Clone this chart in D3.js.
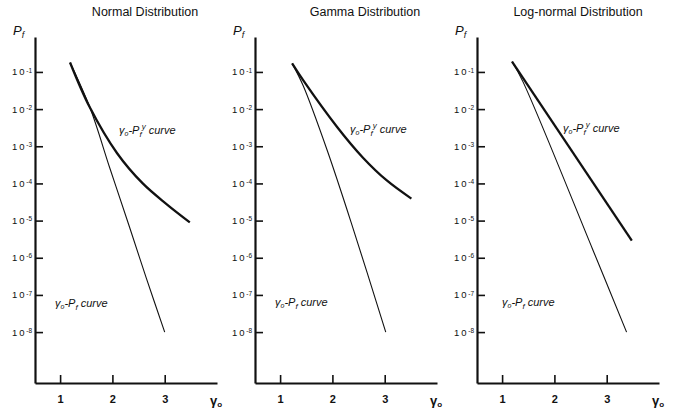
<!DOCTYPE html>
<html>
<head>
<meta charset="utf-8">
<script src="https://cdn.jsdelivr.net/npm/d3@7"></script>
<style>
  body { margin: 0; background: #fff; }
  svg { display: block; font-family: "Liberation Sans", Arial, sans-serif; }
  .axis path, .axis line { stroke: #111; }
  .axis text { fill: #111; }
</style>
</head>
<body>
<svg id="chart" width="674" height="414"></svg>
<script>
// panels
const panelTitles = ["Normal Distribution", "Gamma Distribution", "Log-normal Distribution"];

// axes
const xTicks = [1, 2, 3];
const yTicks = [1e-1, 1e-2, 1e-3, 1e-4, 1e-5, 1e-6, 1e-7, 1e-8];

// [gamma_o, Pf]
const normalPfy = [[1.19, 0.18], [1.57, 1.1e-2], [2.09, 6.5e-4], [2.58, 1.0e-4], [3.04, 2.75e-5], [3.48, 9.0e-6]];
const normalPf = [[1.19, 0.18], [1.57, 1.1e-2], [1.95, 2.6e-4], [2.33, 6.5e-6], [2.65, 2.8e-7], [3.0, 1.0e-8]];

const gammaPfy = [[1.23, 0.17], [1.44, 6.0e-2], [2.09, 3.3e-3], [2.58, 5.0e-4], [3.04, 1.2e-4], [3.51, 3.9e-5]];
const gammaPf = [[1.23, 0.17], [1.44, 4.3e-2], [1.9, 7.8e-4], [2.39, 6.5e-6], [3.02, 1.0e-8]];

const lognormPfy = [[1.19, 0.19], [3.48, 2.9e-6]];
const lognormPf = [[1.19, 0.19], [1.4, 5.4e-2], [2.73, 1.7e-6], [3.38, 1.0e-8]];

const seriesPfy = [normalPfy, gammaPfy, lognormPfy];
const seriesPf = [normalPf, gammaPf, lognormPf];

class Panel {
  constructor(_config, _pfy, _pf) {
    this.config = {
      parentElement: _config.parentElement,
      title: _config.title,
      titleX: _config.titleX,
      left: _config.left,
      upperLabel: _config.upperLabel,
      lowerLabel: _config.lowerLabel,
      width: 182,
      top: 37,
      bottom: 383,
    };
    this.pfy = _pfy;
    this.pf = _pf;
    this.initVis();
  }

  initVis() {
    let vis = this;
    let cfg = vis.config;

    vis.g = d3.select(cfg.parentElement).append("g")
      .attr("transform", `translate(${cfg.left},0)`);

    vis.xScale = d3.scaleLinear().domain([0.52, 4.0]).range([0, cfg.width]);
    vis.yScale = d3.scaleLog()
      .domain([Math.pow(10, -9.37), Math.pow(10, -0.06)])
      .range([cfg.bottom, cfg.top]);

    // title
    vis.g.append("text")
      .attr("x", cfg.titleX)
      .attr("y", 16)
      .attr("text-anchor", "middle")
      .attr("font-size", "12.5px")
      .style("fill", "#111")
      .text(cfg.title);

    // Pf label
    let pl = vis.g.append("text")
      .attr("x", -22)
      .attr("y", 35)
      .attr("font-size", "13px")
      .attr("font-style", "italic")
      .style("fill", "#111");
    pl.append("tspan").text("P");
    pl.append("tspan").attr("dy", 3).attr("font-size", "9px").text("f");

    vis.xAxis = d3.axisBottom(vis.xScale)
      .tickValues(xTicks)
      .tickSizeInner(-8)
      .tickSizeOuter(0)
      .tickPadding(12)
      .tickFormat(d3.format("d"));
    vis.yAxis = d3.axisLeft(vis.yScale)
      .tickValues(yTicks)
      .tickSizeInner(-8)
      .tickSizeOuter(0)
      .tickPadding(3)
      .tickFormat(() => "10");

    vis.xAxisGroup = vis.g.append("g")
      .attr("class", "axis x-axis")
      .attr("transform", `translate(0,${cfg.bottom})`);
    vis.yAxisGroup = vis.g.append("g").attr("class", "axis y-axis");

    // gamma_o label
    let xl = vis.g.append("text")
      .attr("x", cfg.width - 7)
      .attr("y", 405)
      .attr("font-size", "13px")
      .attr("font-weight", "bold")
      .style("fill", "#111");
    xl.append("tspan").text("γ");
    xl.append("tspan").attr("dy", 2).attr("font-size", "8px").text("o");

    vis.renderVis();
  }

  curveLabel(x, y, sup) {
    let vis = this;
    let t = vis.g.append("text")
      .attr("x", x)
      .attr("y", y)
      .attr("font-size", "11px")
      .attr("font-style", "italic")
      .style("fill", "#111");
    t.append("tspan").text("γ");
    t.append("tspan").attr("dy", 2).attr("font-size", "7px").text("o");
    t.append("tspan").attr("dy", -2).text("-P");
    t.append("tspan").attr("dy", 3).attr("font-size", "8px").text("f");
    if (sup) {
      t.append("tspan").attr("dy", -8).attr("font-size", "8px").text("y");
      t.append("tspan").attr("dy", 5).text("  curve");
    } else {
      t.append("tspan").attr("dy", -3).text("  curve");
    }
  }

  renderVis() {
    let vis = this;
    let cfg = vis.config;

    vis.xAxisGroup.call(vis.xAxis);
    vis.yAxisGroup.call(vis.yAxis);

    vis.xAxisGroup.select(".domain").attr("stroke-width", 2.2);
    vis.yAxisGroup.select(".domain").attr("stroke-width", 2.2);
    vis.xAxisGroup.selectAll(".tick line").attr("stroke-width", 1.6);
    vis.yAxisGroup.selectAll(".tick line").attr("stroke-width", 1.6);
    vis.xAxisGroup.selectAll(".tick text")
      .attr("font-size", "11px")
      .attr("font-weight", "bold");
    vis.yAxisGroup.selectAll(".tick text")
      .attr("font-size", "9.5px")
      .attr("letter-spacing", "1.8px")
      .append("tspan")
      .attr("dy", "-0.45em")
      .attr("font-size", "6.5px")
      .attr("letter-spacing", "0px")
      .text(d => "-" + Math.round(-Math.log10(d)));

    const line = d3.line()
      .x(d => vis.xScale(d[0]))
      .y(d => vis.yScale(d[1]))
      .curve(d3.curveCatmullRom.alpha(0.5));

    vis.g.append("path")
      .datum(vis.pf)
      .attr("class", "pf")
      .attr("fill", "none")
      .attr("stroke", "#111")
      .attr("stroke-width", 1.1)
      .attr("d", line);

    vis.g.append("path")
      .datum(vis.pfy)
      .attr("class", "pfy")
      .attr("fill", "none")
      .attr("stroke", "#111")
      .attr("stroke-width", 2.3)
      .attr("d", line);

    vis.curveLabel(cfg.upperLabel[0], cfg.upperLabel[1], true);
    vis.curveLabel(cfg.lowerLabel[0], cfg.lowerLabel[1], false);
  }
}

const lefts = [35, 255, 477];
const titleXs = [110, 110, 101];
const upperLabels = [[84, 134], [95, 133], [86, 132]];
const lowerLabels = [[20, 307], [20, 306], [25, 306]];

panelTitles.forEach((t, i) => {
  new Panel({
    parentElement: "#chart",
    title: t,
    titleX: titleXs[i],
    left: lefts[i],
    upperLabel: upperLabels[i],
    lowerLabel: lowerLabels[i],
  }, seriesPfy[i], seriesPf[i]);
});
</script>
</body>
</html>
